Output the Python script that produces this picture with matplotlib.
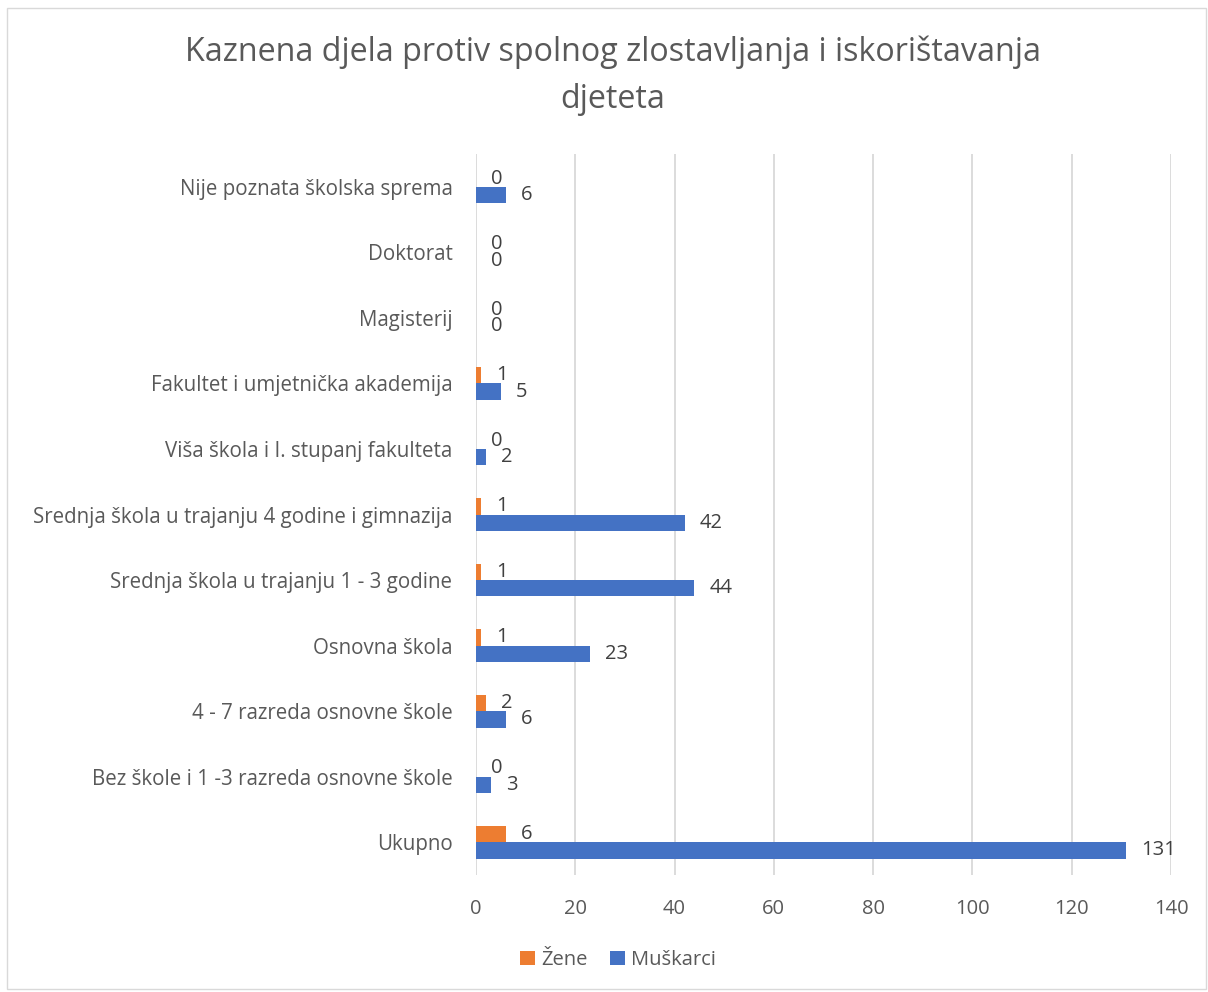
import matplotlib
matplotlib.use("Agg")
import matplotlib.pyplot as plt
from matplotlib.patches import Rectangle

categories = [
    "Ukupno",
    "Bez škole i 1 -3 razreda osnovne škole",
    "4 - 7 razreda osnovne škole",
    "Osnovna škola",
    "Srednja škola u trajanju 1 - 3 godine",
    "Srednja škola u trajanju 4 godine i gimnazija",
    "Viša škola i I. stupanj fakulteta",
    "Fakultet i umjetnička akademija",
    "Magisterij",
    "Doktorat",
    "Nije poznata školska sprema",
]
zene = [6, 0, 2, 1, 1, 1, 0, 1, 0, 0, 0]
muskarci = [131, 3, 6, 23, 44, 42, 2, 5, 0, 0, 6]
xticks = [0, 20, 40, 60, 80, 100, 120, 140]
title = "Kaznena djela protiv spolnog zlostavljanja i iskorištavanja\ndjeteta"

plt.rcParams['font.family'] = ['Open Sans', 'DejaVu Sans']
txt = "#595959"
orange = "#ED7D31"
blue = "#4472C4"

fig = plt.figure(figsize=(12.08, 9.92), dpi=100)
fig.patches.append(Rectangle((0.006, 0.003), 0.992, 0.989, transform=fig.transFigure,
                             fill=False, edgecolor="#d9d9d9", linewidth=1))
ax = fig.add_axes([476/1208, 1-875/992, (1171-476)/1208, (875-154)/992])

h = 0.25
y = list(range(len(categories)))
yz = [v + h/2 for v in y]
ym = [v - h/2 for v in y]
bz = ax.barh(yz, zene, height=h, color=orange, label="Žene", zorder=3)
bm = ax.barh(ym, muskarci, height=h, color=blue, label="Muškarci", zorder=3)

for bars, vals in ((bz, zene), (bm, muskarci)):
    for b, v in zip(bars, vals):
        ax.annotate(str(v), (v, b.get_y() + b.get_height()/2), xytext=(11, 0),
                    textcoords="offset points", ha="left", va="center",
                    fontsize=14.5, color="#404040")

ax.set_xlim(0, 140)
ax.set_ylim(-0.5, len(categories) - 0.5)
ax.set_xticks(xticks)
ax.set_yticks(y)
ax.set_yticklabels(categories)
ax.tick_params(axis="x", length=0, pad=17, labelsize=14.5, labelcolor=txt)
ax.tick_params(axis="y", length=0, pad=17, labelsize=14.8, labelcolor=txt)
ax.grid(axis="x", color="#d9d9d9", linewidth=1.3, zorder=0)
for s in ax.spines.values():
    s.set_visible(False)

fig.text(613/1208, 1-76/992, title, ha="center", va="center", fontsize=23.2,
         color=txt, linespacing=1.55)

leg = fig.legend(handles=[bz, bm], loc="center", bbox_to_anchor=(618/1208, 1-960/992),
                 ncol=2, frameon=False, fontsize=14.5, handlelength=0.75, handleheight=0.75,
                 handletextpad=0.3, columnspacing=1.1)
for t in leg.get_texts():
    t.set_color(txt)

fig.savefig("out.png", dpi=100)
